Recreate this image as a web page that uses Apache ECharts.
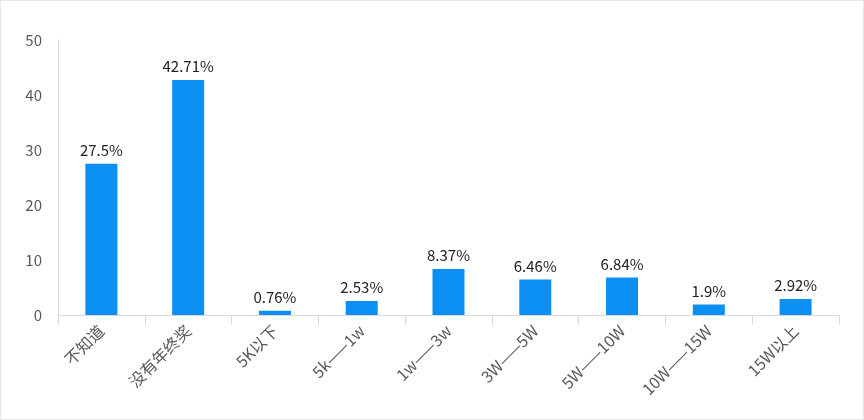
<!DOCTYPE html>
<html>
<head>
<meta charset="utf-8">
<script src="https://cdn.jsdelivr.net/npm/echarts@6/dist/echarts.min.js"></script>
<style>
html,body{margin:0;padding:0;background:#fff;}
#c{width:864px;height:420px;box-sizing:border-box;border:1px solid #e6e6e6;}
</style>
</head>
<body>
<div id="c"></div>
<script>
const categories = ['不知道','没有年终奖','5K以下','5k——1w','1w——3w','3W——5W','5W——10W','10W——15W','15W以上'];
const values = [27.5, 42.71, 0.76, 2.53, 8.37, 6.46, 6.84, 1.9, 2.92];
const yTicks = [0, 10, 20, 30, 40, 50];

const font = '"Noto Sans CJK SC", "Noto Sans", sans-serif';
const chart = echarts.init(document.getElementById('c'));
chart.setOption({
  animation: false,
  grid: {left: 57, right: 24, top: 39, bottom: 104, containLabel: false},
  xAxis: {
    type: 'category',
    data: categories,
    axisLine: {lineStyle: {color: '#d9d9d9'}},
    axisTick: {show: true, length: 10, lineStyle: {color: '#d9d9d9'}},
    axisLabel: {rotate: 45, color: '#595959', fontSize: 16, fontFamily: font, margin: 13, interval: 0}
  },
  yAxis: {
    type: 'value',
    min: yTicks[0], max: yTicks[yTicks.length - 1], interval: 10,
    axisLine: {show: true, lineStyle: {color: '#d9d9d9'}},
    axisTick: {show: false},
    splitLine: {show: false},
    axisLabel: {color: '#595959', fontSize: 15, fontFamily: font, margin: 16}
  },
  series: [{
    type: 'bar',
    data: values,
    barWidth: 32,
    itemStyle: {color: '#0B8FF2'},
    label: {show: true, position: 'top', formatter: '{c}%', color: '#222', fontSize: 15, fontFamily: font, distance: 6}
  }]
});
</script>
</body>
</html>
